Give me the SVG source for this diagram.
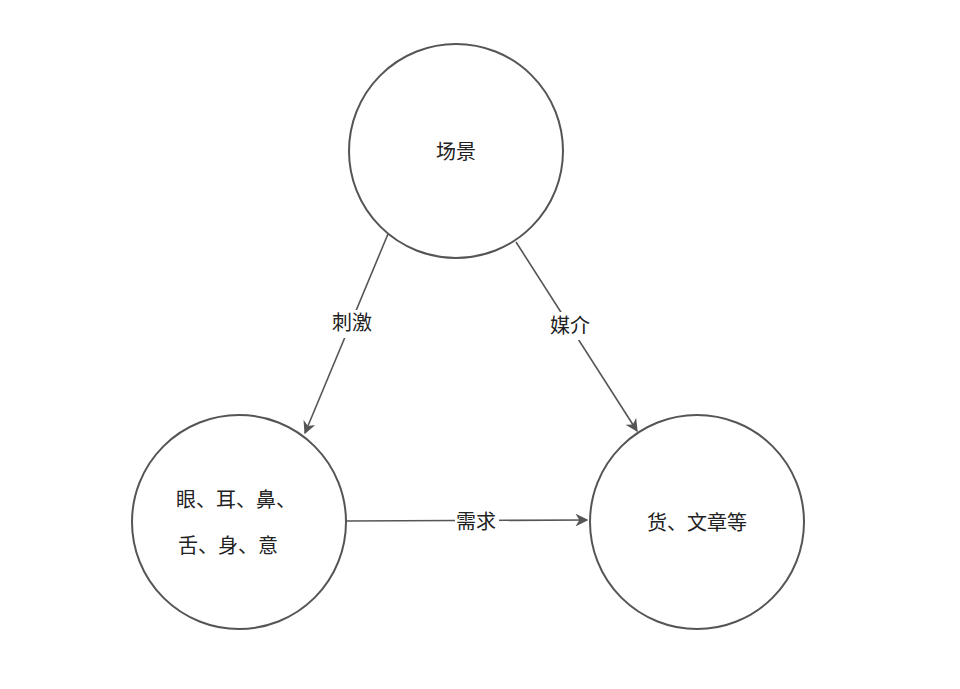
<svg xmlns="http://www.w3.org/2000/svg" width="960" height="689" viewBox="0 0 960 689">
<style>
.n{fill:#fff;stroke:#555;stroke-width:2}
.t{font-family:"Liberation Sans","Noto Sans CJK SC",sans-serif;font-size:20px;fill:#222;text-anchor:middle;dominant-baseline:central}
.c{stroke:#555;stroke-width:1.6;fill:none;marker-end:url(#a)}
</style>
<defs><marker id="a" viewBox="0 0 10 10" refX="9" refY="5" markerWidth="8" markerHeight="8" orient="auto"><path d="M0,0L10,5L0,10L3,5z" fill="#555"/></marker></defs>
<rect width="960" height="689" fill="#fff"/>
<g id="connectors">
<line class="c" x1="388" y1="234" x2="305" y2="433"/>
<line class="c" x1="516" y1="242" x2="637" y2="431"/>
<line class="c" x1="346" y1="521" x2="587" y2="520"/>
<rect x="340" y="310" width="26" height="28" fill="#fff"/>
<text class="t" x="352" y="323">刺激</text>
<rect x="557" y="312" width="26" height="28" fill="#fff"/>
<text class="t" x="570" y="326">媒介</text>
<rect x="455" y="510" width="44" height="24" fill="#fff"/>
<text class="t" x="476" y="522">需求</text>
</g>
<g id="scene"><circle class="n" cx="456" cy="151" r="107"/><text class="t" x="456" y="152">场景</text></g>
<g id="senses"><circle class="n" cx="239" cy="522" r="107"/><text class="t" x="236" y="500">眼、耳、鼻、</text><text class="t" x="228" y="546">舌、身、意</text></g>
<g id="goods"><circle class="n" cx="697" cy="522" r="107"/><text class="t" x="697" y="523">货、文章等</text></g>
</svg>
